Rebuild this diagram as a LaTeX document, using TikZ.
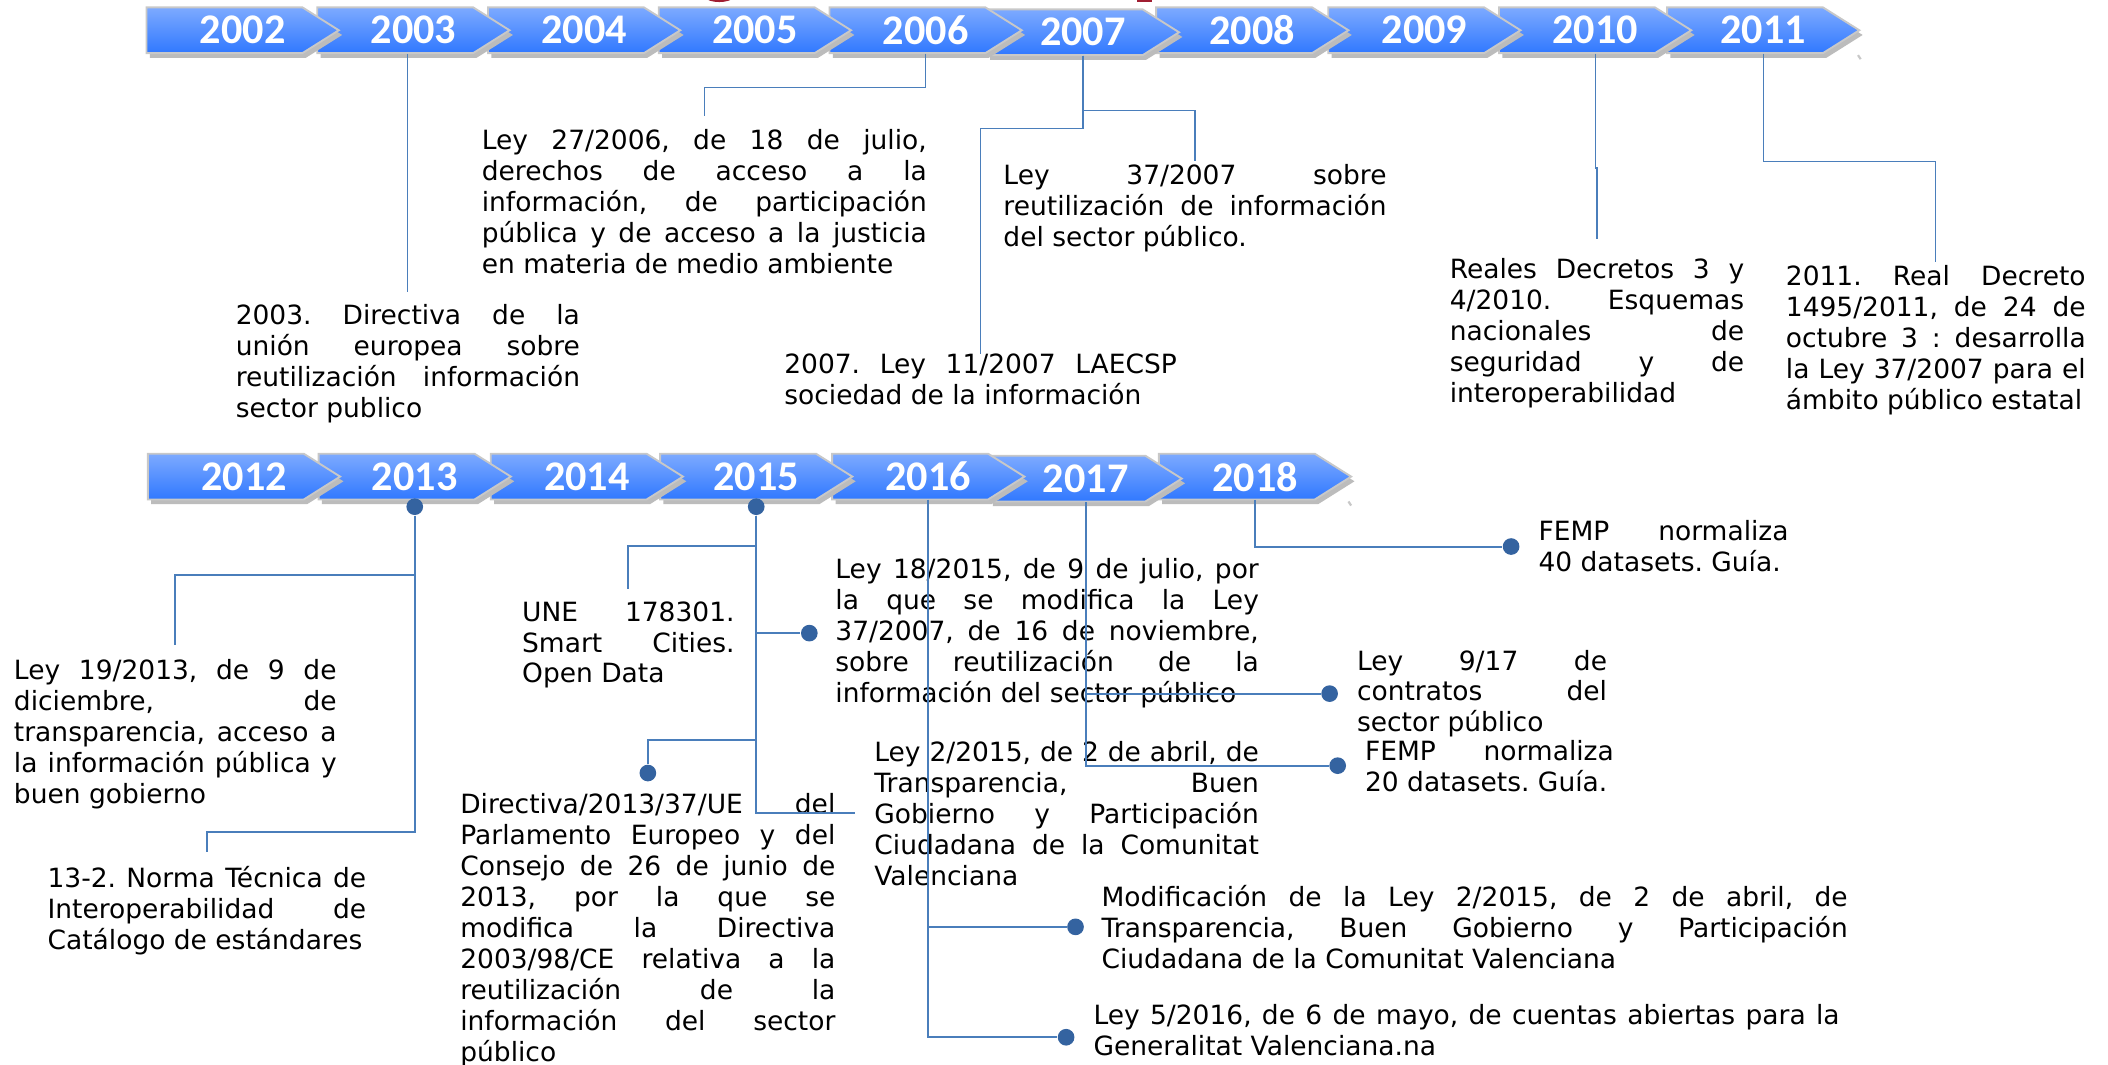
\documentclass[tikz,border=0pt]{standalone}
\usepackage{fontspec}
\setmainfont{DejaVu Sans}
\newfontfamily\yearfont{Carlito}
\usetikzlibrary{positioning}
\definecolor{chevtop}{RGB}{125,170,255}
\definecolor{chevbot}{RGB}{48,120,255}
\definecolor{chevrim}{RGB}{200,200,200}
\definecolor{chevshade}{RGB}{188,188,188}
\definecolor{linkblue}{RGB}{74,126,187}
\definecolor{dotblue}{RGB}{52,99,160}
\definecolor{titlered}{RGB}{160,30,50}
\hyphenpenalty=10000
\exhyphenpenalty=10000
\tolerance=10000
\hbadness=10000
\frenchspacing
\tikzset{
	chev/.style = {top color=chevtop, bottom color=chevbot, draw=chevrim, line width=.7pt},
	yearbox/.style = {minimum width=71.5pt, minimum height=17pt, inner sep=0pt, text=white, font=\yearfont\bfseries\fontsize{15.7}{16}\selectfont},
	note/.style = {anchor=north west, inner sep=0pt, align=justify, font=\fontsize{9.85}{11.5}\selectfont},
	link/.style = {draw=linkblue, line width=.75pt},
	linkthin/.style = {draw=linkblue, line width=.45pt},
	dot/.style = {circle, fill=dotblue, inner sep=0pt, minimum size=6.2pt}
}
\begin{document}
\begin{tikzpicture}[x = .5pt, y = -.5pt]
	\path[use as bounding box, fill=white] (0,0) rectangle (1568,791.45);
	\fill[titlered] (535,-2) ellipse [x radius=10, y radius=3.5];
	\fill[titlered] (846,-1) rectangle (857,1.2);
	\foreach \yr/\xl/\yt in {2011/1240/5.5, 2010/1115/5.5, 2009/988/5.5, 2008/860/5.5, 2007/734/7, 2006/617/5.5, 2005/490/5.5, 2004/363/5.5, 2003/236/5.5, 2002/109/5.5, 2018/862/337.5, 2017/736/339, 2016/619/337.5, 2015/491/337.5, 2014/365/337.5, 2013/237/337.5, 2012/110/337.5}{
		\fill[chevshade] (\xl+2.5,\yt+3.5) -- ++(116,0) -- ++(27,17) -- ++(-27,17) -- ++(-116,0) -- cycle;
		\path[chev] (\xl,\yt) -- ++(116,0) -- ++(27,17) -- ++(-27,17) -- ++(-116,0) -- cycle;
		\node[yearbox] (y\yr) at (\xl+71.5,\yt+17) {\yr};
	}
	\draw[chevrim, line width=.8pt] (1382,41) -- (1384,44);
	\draw[chevrim, line width=.8pt] (1003,373) -- (1005,376);

	\node[note, text width=128pt] (n2003) at (175,226) {2003. Directiva de la\linebreak unión europea sobre\linebreak reutilización información\linebreak sector publico};
	\node[note, text width=165.5pt] (n2006) at (358,96) {Ley 27/2006, de 18 de julio,\linebreak derechos de acceso a la\linebreak información, de participación\linebreak pública y de acceso a la justicia\linebreak en materia de medio ambiente};
	\node[note, text width=142.5pt] (n2007a) at (746,122) {Ley 37/2007 sobre\linebreak reutilización de información\linebreak del sector público.};
	\node[note, text width=146pt] (n2007b) at (583,263) {2007. Ley 11/2007 LAECSP\linebreak sociedad de la información};
	\node[note, text width=109.5pt] (n2010) at (1078,192) {Reales Decretos 3 y\linebreak 4/2010. Esquemas\linebreak nacionales de\linebreak seguridad y de\linebreak interoperabilidad};
	\node[note, text width=111.5pt] (n2011) at (1328,197) {2011. Real Decreto\linebreak 1495/2011, de 24 de\linebreak octubre 3 : desarrolla\linebreak la Ley 37/2007 para el\linebreak ámbito público estatal};

	\draw[linkthin] (n2003.north |- y2003.south) -- ([yshift=4.5pt]n2003.north);
	\draw[linkthin] (y2006.south) -- ++(0,25) -| ([yshift=5pt]n2006.north);
	\draw[linkthin] (y2007.south) -- ++(0,41) -| ([yshift=1pt]n2007a.north);
	\draw[linkthin] (y2007.south) -- ++(0,54) -| (n2007b.north);
	\draw[linkthin] (y2010.south) -- ++(0,85) -| ([yshift=7pt]n2010.north);
	\draw[linkthin] (y2011.south) -- ++(0,80) -| ([yshift=1pt]n2011.north);

	\node[note, text width=120pt] (n2013a) at (10,490) {Ley 19/2013, de 9 de\linebreak diciembre, de\linebreak transparencia, acceso a\linebreak la información pública y\linebreak buen gobierno};
	\node[note, text width=118.5pt] (n2013b) at (35,644) {13-2. Norma Técnica de\linebreak Interoperabilidad de\linebreak Catálogo de estándares};
	\node[note, text width=79pt] (n2015a) at (388,447) {UNE 178301.\linebreak Smart Cities.\linebreak Open Data};
	\node[note, text width=157.5pt] (n2015b) at (621,415) {Ley 18/2015, de 9 de julio, por\linebreak la que se modifica la Ley\linebreak 37/2007, de 16 de noviembre,\linebreak sobre reutilización de la\linebreak información del sector público};
	\node[note, text width=139.5pt] (n2015c) at (342,590) {Directiva/2013/37/UE del\linebreak Parlamento Europeo y del\linebreak Consejo de 26 de junio de\linebreak 2013, por la que se\linebreak modifica la Directiva\linebreak 2003/98/CE relativa a la\linebreak reutilización de la\linebreak información del sector\linebreak público};
	\node[note, text width=143pt] (n2015d) at (650,551) {Ley 2/2015, de 2 de abril, de\linebreak Transparencia, Buen\linebreak Gobierno y Participación\linebreak Ciudadana de la Comunitat\linebreak Valenciana};
	\node[note, text width=93pt] (n2017a) at (1009,483) {Ley 9/17 de\linebreak contratos del\linebreak sector público};
	\node[note, text width=92.5pt] (n2017b) at (1015,550) {FEMP normaliza\linebreak 20 datasets. Guía.};
	\node[note, text width=93pt] (n2018) at (1144,387) {FEMP normaliza\linebreak 40 datasets. Guía.};
	\node[note, text width=277.5pt] (n2016a) at (819,658) {Modificación de la Ley 2/2015, de 2 de abril, de\linebreak Transparencia, Buen Gobierno y Participación\linebreak Ciudadana de la Comunitat Valenciana};
	\node[note, text width=277.5pt] (n2016b) at (813,747) {Ley 5/2016, de 6 de mayo, de cuentas abiertas para la\linebreak Generalitat Valenciana.na};

	\node[dot] (p2013) at ([yshift=-2.5pt]y2013.south) {};
	\node[dot] (p2015) at ([yshift=-2.5pt]y2015.south) {};
	\node[dot] (p2015b) at ([xshift=-9.5pt]n2015b.west) {};
	\node[dot] (p2015c) at ([yshift=7.5pt]n2015c.north) {};
	\coordinate (c2015d) at ([xshift=-7pt]n2015d.west);
	\node[dot] (p2016a) at ([xshift=-9.5pt]n2016a.west) {};
	\node[dot] (p2016b) at ([xshift=-10pt,yshift=-2.5pt]n2016b.west) {};
	\node[dot] (p2017a) at ([xshift=-10pt]n2017a.west) {};
	\node[dot] (p2017b) at ([xshift=-10pt]n2017b.west) {};
	\node[dot] (p2018) at ([xshift=-10pt]n2018.west) {};

	\draw[link] (p2013) -- ++(0,51) -| ([yshift=5pt]n2013a.north);
	\draw[link] (p2013) -- ++(0,242) -| ([yshift=5pt]n2013b.north);
	\draw[link] (p2015) -- ++(0,29.5) -| ([yshift=4.5pt]n2015a.north);
	\draw[link] (p2015) |- (p2015b);
	\draw[link] (p2015) -- ++(0,173.5) -| (p2015c);
	\draw[link] (p2015) |- (c2015d);
	\draw[link] (y2016.south) |- (p2016a);
	\draw[link] (y2016.south) |- (p2016b);
	\draw[link] (y2017.south) |- (p2017a);
	\draw[link] (y2017.south) |- (p2017b);
	\draw[link] (y2018.south) |- (p2018);
\end{tikzpicture}
\end{document}
